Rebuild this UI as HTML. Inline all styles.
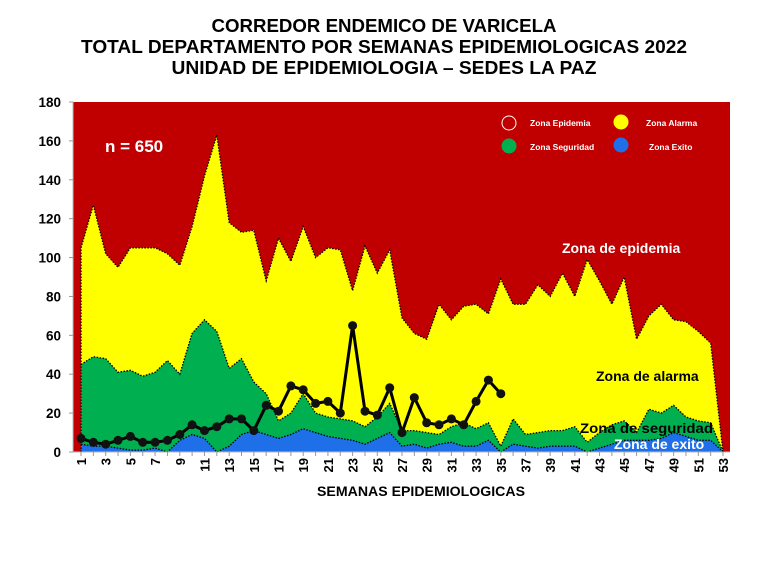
<!DOCTYPE html>
<html><head><meta charset="utf-8"><style>
html,body{margin:0;padding:0;background:#fff;}
svg{display:block;font-family:"Liberation Sans",Arial,sans-serif;}
</style></head><body>
<svg id="s" width="768" height="576" xmlns="http://www.w3.org/2000/svg">
<text x="384" y="32" text-anchor="middle" font-weight="bold" font-size="18" textLength="345" lengthAdjust="spacingAndGlyphs">CORREDOR ENDEMICO DE VARICELA</text>
<text x="384" y="53" text-anchor="middle" font-weight="bold" font-size="18" textLength="606" lengthAdjust="spacingAndGlyphs">TOTAL DEPARTAMENTO POR SEMANAS EPIDEMIOLOGICAS 2022</text>
<text x="384" y="74" text-anchor="middle" font-weight="bold" font-size="18" textLength="425" lengthAdjust="spacingAndGlyphs">UNIDAD DE EPIDEMIOLOGIA – SEDES LA PAZ</text>
<g id="g"></g>
</svg>
<script>
var L=73,R=730,T=102,B=452,x0=81,dx=(723-81)/52,k=(B-T)/180;
function X(w){return x0+(w-1)*dx;}function Y(v){return B-v*k;}
var al=[105,127,102,95,105,105,105,102,96,116,142,163,118,113,114,88,110,98,116,100,105,104,83,106,92,104,69,61,58,76,68,75,76,71,89,76,76,86,80,92,80,99,88,76,90,58,70,76,68,67,62,56,0];
var se=[45,49,48,41,42,39,41,47,40,61,68,62,43,48,36,30,16,20,30,20,18,17,16,13,18,25,11,11,10,9,13,15,12,15,3,17,9,10,11,11,13,5,10,14,16,10,22,20,24,18,16,15,0];
var ex=[4,3,3,2,1,1,2,0,6,9,7,0,3,9,11,9,7,9,12,10,8,7,6,4,7,10,3,4,2,4,5,3,3,6,0,4,3,2,3,3,3,0,2,4,6,6,6,7,10,8,6,6,0];
var ca=[7,5,4,6,8,5,5,6,9,14,11,13,17,17,11,24,21,34,32,25,26,20,65,21,19,33,10,28,15,14,17,14,26,37,30];
var h='';
h+='<rect x="'+L+'" y="'+T+'" width="'+(R-L)+'" height="'+(B-T)+'" fill="#c00000"/>';
function area(a,c){var p='M'+X(1)+','+B;for(var i=0;i<a.length;i++)p+=' L'+X(i+1).toFixed(1)+','+Y(a[i]).toFixed(1);p+=' L'+X(53)+','+B+' Z';
var l='M'+X(1)+','+Y(a[0]).toFixed(1);for(var i=1;i<a.length;i++)l+=' L'+X(i+1).toFixed(1)+','+Y(a[i]).toFixed(1);
return '<path d="'+p+'" fill="'+c+'"/><path d="'+l+'" fill="none" stroke="#000" stroke-width="1.3" stroke-dasharray="1.5,1.5"/>';}
h+=area(al,'#ffff00')+area(se,'#00b050')+area(ex,'#1f6fe8');
h+='<line x1="'+X(1)+'" y1="'+B+'" x2="'+X(1)+'" y2="'+Y(al[0])+'" stroke="#000" stroke-width="1.3" stroke-dasharray="1.5,1.5"/>';
var l='';for(var i=0;i<ca.length;i++)l+=(i?' L':'M')+X(i+1).toFixed(1)+','+Y(ca[i]).toFixed(1);
h+='<path d="'+l+'" fill="none" stroke="#000" stroke-width="3"/>';
for(var i=0;i<ca.length;i++)h+='<circle cx="'+X(i+1).toFixed(1)+'" cy="'+Y(ca[i]).toFixed(1)+'" r="4.5" fill="#111"/>';
h+='<line x1="'+L+'" y1="'+T+'" x2="'+L+'" y2="'+B+'" stroke="#bbb"/><line x1="'+L+'" y1="'+B+'" x2="'+R+'" y2="'+B+'" stroke="#bbb"/>';
for(var v=0;v<=180;v+=20){h+='<line x1="'+(L-4)+'" y1="'+Y(v)+'" x2="'+L+'" y2="'+Y(v)+'" stroke="#999"/>';
h+='<text x="'+(L-12)+'" y="'+(Y(v)+5)+'" text-anchor="end" font-weight="bold" font-size="13.5">'+v+'</text>';}
for(var w=1;w<=53;w++){h+='<line x1="'+X(w)+'" y1="'+B+'" x2="'+X(w)+'" y2="'+(B+4)+'" stroke="#999"/>';
if(w%2)h+='<text transform="translate('+(X(w)+5)+','+(B+6)+') rotate(-90)" text-anchor="end" font-weight="bold" font-size="13">'+w+'</text>';}
h+='<text x="421" y="496" text-anchor="middle" font-weight="bold" font-size="14" textLength="208" lengthAdjust="spacingAndGlyphs">SEMANAS EPIDEMIOLOGICAS</text>';
h+='<text x="105" y="152" fill="#fff" font-weight="bold" font-size="17">n = 650</text>';
h+='<circle cx="509" cy="123" r="7" fill="#c00000" stroke="#fff" stroke-width="1"/><text x="530" y="126" fill="#fff" font-weight="bold" font-size="8.5">Zona Epidemia</text>';
h+='<circle cx="621" cy="122" r="7.5" fill="#ffff00"/><text x="646" y="126" fill="#fff" font-weight="bold" font-size="8.5">Zona Alarma</text>';
h+='<circle cx="509" cy="146" r="7.5" fill="#00b050"/><text x="530" y="150" fill="#fff" font-weight="bold" font-size="8.5">Zona Seguridad</text>';
h+='<circle cx="621" cy="145" r="7.5" fill="#1f6fe8"/><text x="649" y="150" fill="#fff" font-weight="bold" font-size="8.5">Zona Exito</text>';
h+='<text x="562" y="253" fill="#fff" font-weight="bold" font-size="14">Zona de epidemia</text>';
h+='<text x="596" y="381" fill="#000" font-weight="bold" font-size="14">Zona de alarma</text>';
h+='<text x="580" y="433" fill="#000" font-weight="bold" font-size="14" textLength="133" lengthAdjust="spacingAndGlyphs">Zona de  seguridad</text>';
h+='<text x="614" y="449" fill="#fff" font-weight="bold" font-size="14">Zona de exito</text>';
document.getElementById('g').innerHTML=h;
</script>
</body></html>
